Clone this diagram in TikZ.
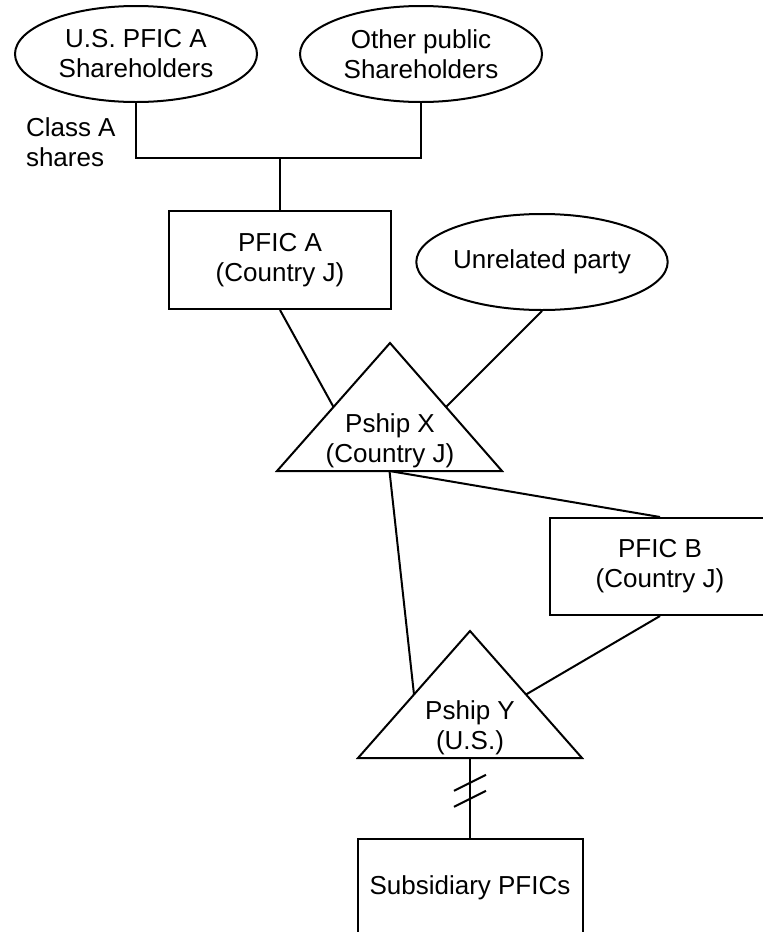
\documentclass[tikz,border=0pt]{standalone}
\usepackage{fontspec}
\setmainfont{Liberation Sans}
\usetikzlibrary{shapes.geometric,calc}

\begin{document}
\begin{tikzpicture}[x=0.5pt,y=-0.5pt,line width=1pt,
    every node/.style={font=\fontsize{13}{15}\selectfont,align=center,inner sep=0pt}]
       \tikzstyle{holder}=[ellipse,draw,minimum width=121pt,minimum height=48pt]
       \tikzstyle{entity}=[rectangle,draw,minimum width=111pt,minimum height=49pt]

       \useasboundingbox (0,0) rectangle (763,932);
       \clip (0,0) rectangle (763,932);

       \node[holder] (USholders)  at (136,54)  {U.S. PFIC A\\Shareholders};
       \node[holder] (Otherholders) at (421,54) {Other public\\Shareholders};
       \node[anchor=west,align=left] (classA) at (25,142) {Class A\\shares};
       \coordinate (join) at (280,158);

       \node[entity] (PFICA) at (280,260) {PFIC A\\(Country J)};
       \node[holder,minimum width=120pt] (Unrelated) at (542,262) {Unrelated party};

       % partnerships drawn as triangles
       \coordinate (Xtop)   at (390,343);
       \coordinate (Xleft)  at (277,471);
       \coordinate (Xright) at (502,471);
       \coordinate (Xbase)  at ($(Xleft)!0.5!(Xright)$);
       \draw (Xtop) -- (Xleft) -- (Xright) -- cycle;
       \node (PshipX) at (390,441) {Pship X\\(Country J)};

       \node[entity,minimum width=110pt,minimum height=48.5pt] (PFICB) at (660,566.5) {PFIC B\\(Country J)};

       \coordinate (Ytop)   at (470,631);
       \coordinate (Yleft)  at (358,758);
       \coordinate (Yright) at (582,758);
       \coordinate (Ybase)  at ($(Yleft)!0.5!(Yright)$);
       \draw (Ytop) -- (Yleft) -- (Yright) -- cycle;
       \node (PshipY) at (470,728) {Pship Y\\(U.S.)};

       \node[entity,minimum width=112.5pt] (Subsid) at (470,888) {Subsidiary PFICs};

       \draw (USholders.south) |- (join) -| (Otherholders.south);
       \draw (join) -- (PFICA.north);

       \path[draw]
       (PFICA.south) edge ($(Xtop)!0.5!(Xleft)$)
       (Unrelated.south) edge ($(Xtop)!0.5!(Xright)$)
       (Xbase) edge (PFICB.north)
               edge ($(Ytop)!0.5!(Yleft)$)
       (PFICB.south) edge ($(Ytop)!0.5!(Yright)$)
       (Ybase) edge (Subsid.north);

       % break marks
       \path (Ybase) -- (Subsid.north) coordinate[pos=0.31] (cutA) coordinate[pos=0.51] (cutB);
       \draw ([shift={(-16,8)}]cutA) -- ([shift={(16,-8)}]cutA);
       \draw ([shift={(-16,8)}]cutB) -- ([shift={(16,-8)}]cutB);
     \end{tikzpicture}
\end{document}
